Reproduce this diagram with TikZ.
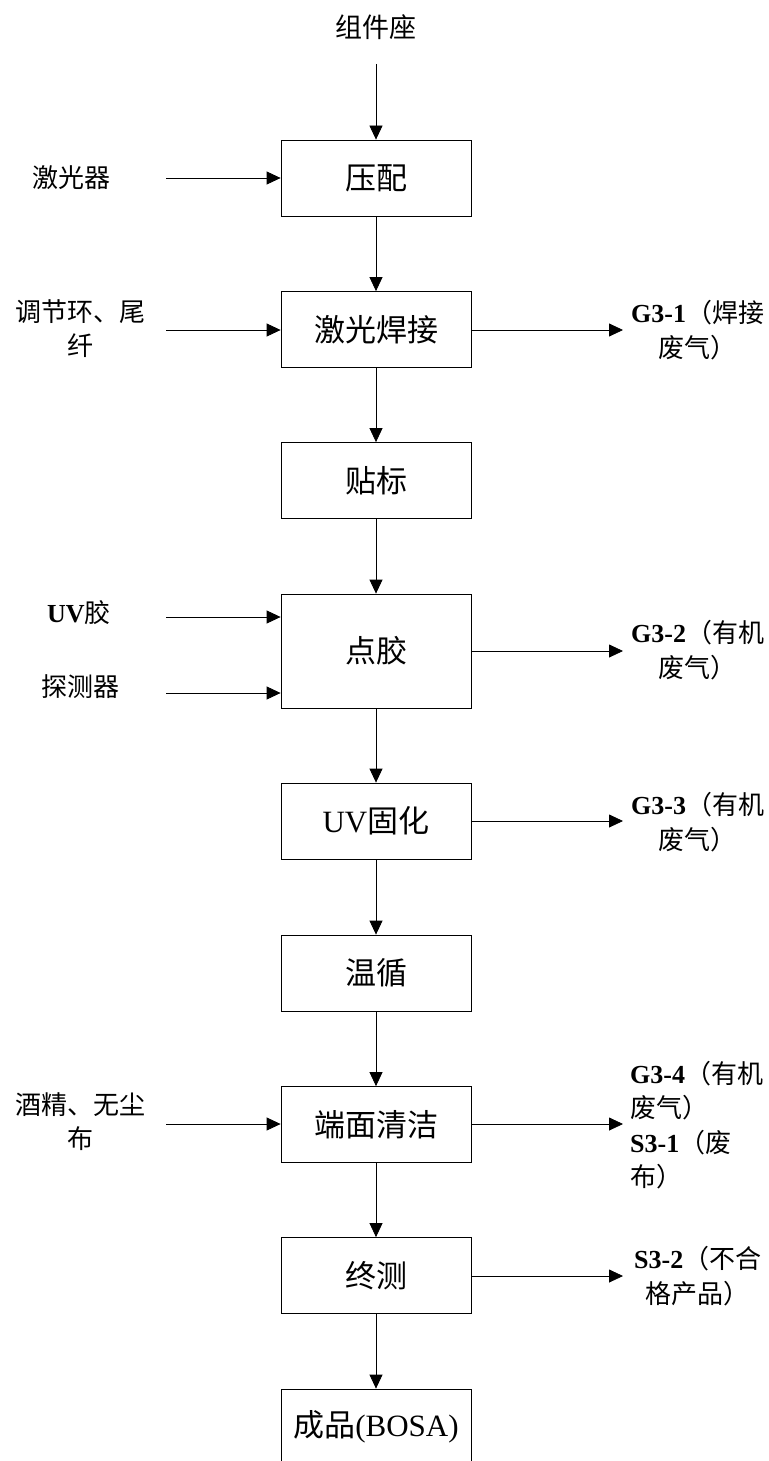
\documentclass[tikz,border=0pt]{standalone}
\usepackage{fontspec}
\setmainfont{Liberation Serif}
\newfontfamily\cjk{Noto Sans CJK SC}
\usetikzlibrary{arrows.meta}
\begin{document}
\begin{tikzpicture}[x=1pt,y=-1pt,
  proc/.style={draw, line width=0.8pt, minimum width=190pt, minimum height=76pt, inner sep=0pt, font=\fontsize{31}{36}\selectfont},
  side/.style={font=\fontsize{26}{34}\selectfont, align=center, inner sep=0pt},
  outl/.style={font=\fontsize{26}{34.5}\selectfont, align=center, inner sep=0pt, anchor=west},
  flow/.style={-{Triangle[length=14pt,width=13pt]}, line width=0.8pt}]
\clip (0,0) rectangle (768,1461);
\fill[white] (0,0) rectangle (768,1461);
% main process boxes
\node[side, font=\fontsize{27}{34}\selectfont] (src) at (376,27) {\cjk 组件座};
\coordinate (srcend) at (376,64);
\node[proc] (p1) at (376,178) {\cjk 压配};
\node[proc] (p2) at (376,329.5) {\cjk 激光焊接};
\node[proc] (p3) at (376,480.5) {\cjk 贴标};
\node[proc, minimum height=114pt] (p4) at (376,651) {\cjk 点胶};
\node[proc] (p5) at (376,821) {UV{\cjk 固化}};
\node[proc] (p6) at (376,973) {\cjk 温循};
\node[proc] (p7) at (376,1124.5) {\cjk 端面清洁};
\node[proc] (p8) at (376,1275.5) {\cjk 终测};
\node[proc] (p9) at (376,1427) {{\cjk 成品}(BOSA)};
% vertical flow
\draw[flow] (srcend) -- (p1.north);
\draw[flow] (p1) -- (p2);
\draw[flow] (p2) -- (p3);
\draw[flow] (p3) -- (p4);
\draw[flow] (p4) -- (p5);
\draw[flow] (p5) -- (p6);
\draw[flow] (p6) -- (p7);
\draw[flow] (p7) -- (p8);
\draw[flow] (p8) -- (p9);
% inputs
\node[side] (i1) at (71,178) {\cjk 激光器};
\node[side] (i2) at (80,329) {{\cjk 调节环、尾}\\{\cjk 纤}};
\node[side] (i3) at (79,613) {\textbf{UV}{\cjk 胶}};
\node[side] (i4) at (80,687) {\cjk 探测器};
\node[side] (i5) at (80,1122) {{\cjk 酒精、无尘}\\{\cjk 布}};
\coordinate (a1) at (166,178);
\coordinate (a2) at (166,330);
\coordinate (a3) at (166,617);
\coordinate (a4) at (166,693);
\coordinate (a5) at (166,1124);
\draw[flow] (a1) -- (a1 -| p1.west);
\draw[flow] (a2) -- (a2 -| p2.west);
\draw[flow] (a3) -- (a3 -| p4.west);
\draw[flow] (a4) -- (a4 -| p4.west);
\draw[flow] (a5) -- (a5 -| p7.west);
% outputs
\coordinate (b2) at (623,330);
\coordinate (b4) at (623,651);
\coordinate (b5) at (623,821);
\coordinate (b7) at (623,1124);
\coordinate (b8) at (623,1276);
\draw[flow] (b2 -| p2.east) -- (b2);
\draw[flow] (b4 -| p4.east) -- (b4);
\draw[flow] (b5 -| p5.east) -- (b5);
\draw[flow] (b7 -| p7.east) -- (b7);
\draw[flow] (b8 -| p8.east) -- (b8);
\node[outl] (o2) at (631,330) {\textbf{G3-1}{\cjk （焊接}\\{\cjk 废气）}};
\node[outl] (o4) at (631,650) {\textbf{G3-2}{\cjk （有机}\\{\cjk 废气）}};
\node[outl] (o5) at (631,822) {\textbf{G3-3}{\cjk （有机}\\{\cjk 废气）}};
\node[outl, align=left] (o7) at (630,1125) {\textbf{G3-4}{\cjk （有机}\\{\cjk 废气）}\\\textbf{S3-1}{\cjk （废}\\{\cjk 布）}};
\node[outl] (o8) at (634,1276) {\textbf{S3-2}{\cjk （不合}\\{\cjk 格产品）}};
\end{tikzpicture}
\end{document}
